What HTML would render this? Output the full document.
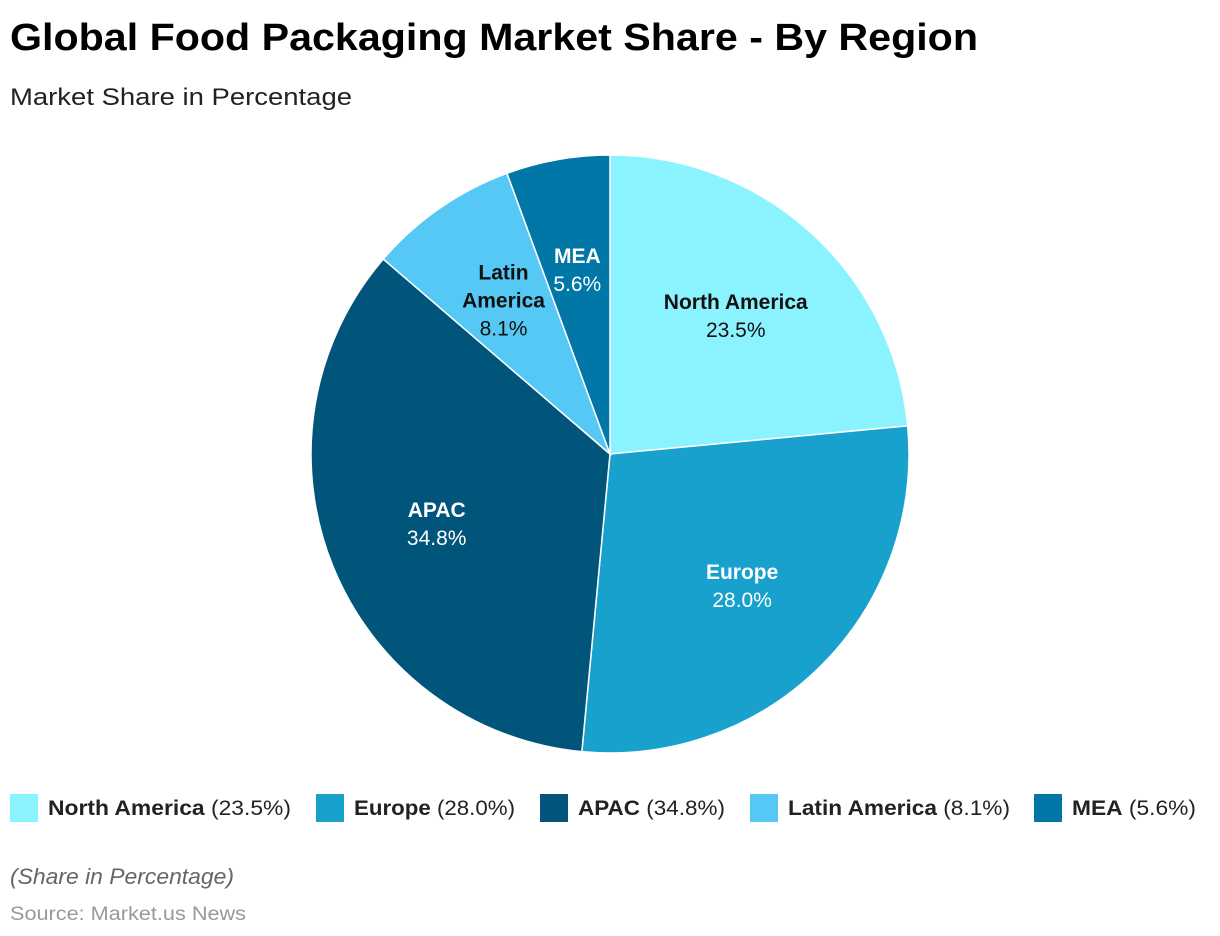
<!DOCTYPE html>
<html><head><meta charset="utf-8"><style>
html,body{margin:0;padding:0;background:#fff;}
svg{display:block;font-family:"Liberation Sans",Arial,sans-serif;}
</style></head><body>
<svg id="chart" width="1220" height="936" viewBox="0 0 1220 936">
<text x="10" y="50" font-size="38" font-weight="bold" fill="#000" textLength="968" lengthAdjust="spacingAndGlyphs">Global Food Packaging Market Share - By Region</text>
<text x="10" y="105" font-size="24" fill="#222" textLength="342" lengthAdjust="spacingAndGlyphs">Market Share in Percentage</text>
<g id="slices"></g>
<g id="labels"></g>
<g id="legend"></g>
<text x="10" y="884" font-size="22" font-style="italic" fill="#666" textLength="224" lengthAdjust="spacingAndGlyphs">(Share in Percentage)</text>
<text x="10" y="920" font-size="19" fill="#999" textLength="236" lengthAdjust="spacingAndGlyphs">Source: Market.us News</text>
</svg>
<script>
const categories = ["North America", "Europe", "APAC", "Latin America", "MEA"];
const shares = [23.5, 28.0, 34.8, 8.1, 5.6];
const valueLabels = ["23.5%", "28.0%", "34.8%", "8.1%", "5.6%"];
const colors = ["#8af3ff", "#18a1cd", "#01557b", "#56c8f5", "#0077a6"];
const textColors = ["#111", "#fff", "#fff", "#111", "#fff"];
const legendX = [10, 316, 540, 750, 1034];
const legendW = [243, 161, 147, 222, 124];

const NS = "http://www.w3.org/2000/svg";
const cx = 610, cy = 454, R = 299;
const total = shares.reduce((a, b) => a + b, 0);
const slicesG = document.getElementById('slices');
const labelsG = document.getElementById('labels');
const legendG = document.getElementById('legend');
function pt(a, r) { return [cx + r * Math.sin(a), cy - r * Math.cos(a)]; }
let acc = 0;
shares.forEach((v, i) => {
  const a0 = acc / total * 2 * Math.PI;
  acc += v;
  const a1 = acc / total * 2 * Math.PI;
  const p0 = pt(a0, R), p1 = pt(a1, R);
  const large = (a1 - a0) > Math.PI ? 1 : 0;
  const path = document.createElementNS(NS, 'path');
  path.setAttribute('d', `M${cx},${cy} L${p0[0]},${p0[1]} A${R},${R} 0 ${large} 1 ${p1[0]},${p1[1]} Z`);
  path.setAttribute('fill', colors[i]);
  path.setAttribute('stroke', '#fff');
  path.setAttribute('stroke-width', '1.5');
  
  
  slicesG.appendChild(path);

  const mid = (a0 + a1) / 2;
  const lp = pt(mid, R * 0.625);
  const lines = categories[i] === "Latin America" ? ["Latin", "America"] : [categories[i]];
  const t = document.createElementNS(NS, 'text');
  t.setAttribute('text-anchor', 'middle');
  t.setAttribute('font-size', '21');
  t.setAttribute('fill', textColors[i]);
  
  
  const n = lines.length + 1;
  const y0 = lp[1] - (n - 1) * 14 + 7;
  lines.forEach((ln, k) => {
    const s = document.createElementNS(NS, 'tspan');
    s.setAttribute('x', lp[0]);
    s.setAttribute('y', y0 + k * 28);
    s.setAttribute('font-weight', 'bold');
    s.textContent = ln;
    t.appendChild(s);
  });
  const s2 = document.createElementNS(NS, 'tspan');
  s2.setAttribute('x', lp[0]);
  s2.setAttribute('y', y0 + lines.length * 28);
  s2.textContent = valueLabels[i];
  t.appendChild(s2);
  labelsG.appendChild(t);

  const g = document.createElementNS(NS, 'g');
  
  
  const r = document.createElementNS(NS, 'rect');
  r.setAttribute('x', legendX[i]); r.setAttribute('y', 794);
  r.setAttribute('width', 28); r.setAttribute('height', 28);
  r.setAttribute('fill', colors[i]);
  
  
  g.appendChild(r);
  const lt = document.createElementNS(NS, 'text');
  lt.setAttribute('x', legendX[i] + 38); lt.setAttribute('y', 815);
  lt.setAttribute('font-size', '21'); lt.setAttribute('fill', '#222');
  lt.setAttribute('textLength', legendW[i]);
  lt.setAttribute('lengthAdjust', 'spacingAndGlyphs');
  
  
  const b = document.createElementNS(NS, 'tspan');
  b.setAttribute('font-weight', 'bold');
  b.textContent = categories[i];
  lt.appendChild(b);
  const pv = document.createElementNS(NS, 'tspan');
  pv.textContent = ' (' + valueLabels[i] + ')';
  lt.appendChild(pv);
  g.appendChild(lt);
  legendG.appendChild(g);
});
</script>
</body></html>
